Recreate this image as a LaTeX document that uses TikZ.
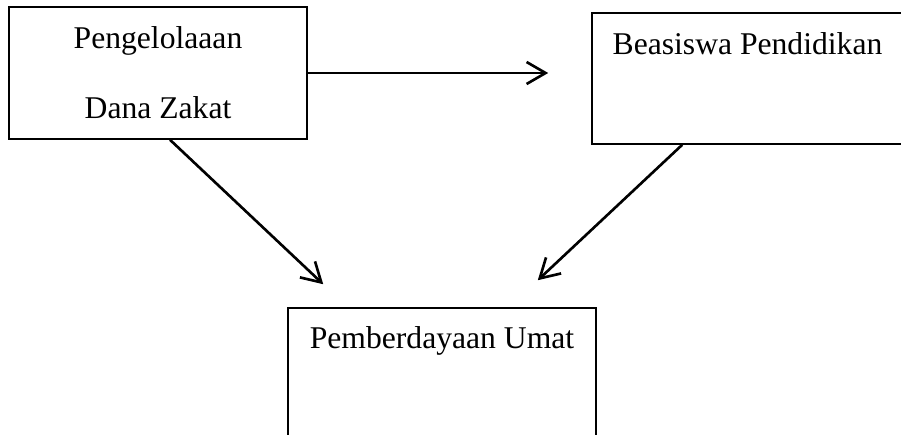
\documentclass[tikz,border=0pt]{standalone}
\usepackage{fontspec}
\setmainfont{Liberation Serif}
\usetikzlibrary{arrows.meta}
\usetikzlibrary{positioning}
\tikzset{kotak/.style = {draw, line width=0.9pt, inner sep=0pt,
                         font=\fontsize{18}{40}\selectfont, align=center},
         panah/.style = {line width=1.5pt,
                         -{Straight Barb[length=0.38cm, width=0.44cm, line width=1.5pt]}}}

\begin{document}
\begin{tikzpicture}
    \useasboundingbox (0, 0) rectangle (18.02, 8.68);

    \node [kotak, minimum width=5.96cm, minimum height=2.64cm] (pengelolaan) at (3.16, 7.22) {Pengelolaaan\\Dana Zakat};
    \node [kotak, minimum width=6.22cm, text height=0.82cm, text depth=1.8cm] (beasiswa) at (14.95, 7.11) {Beasiswa Pendidikan};
    \node [kotak, minimum width=6.16cm, text height=0.8cm, text depth=2.3cm] (pemberdayaan) at (8.84, 0.97) {Pemberdayaan Umat};

    \draw [panah] (pengelolaan.east) -- ([xshift=-0.86cm]pengelolaan.east -| beasiswa.west);
    \draw [panah] ([xshift=0.24cm]pengelolaan.south) -- ([xshift=0.72cm, yshift=0.46cm]pemberdayaan.north west);
    \draw [panah] ([xshift=1.82cm]beasiswa.south west) -- ([xshift=-1.18cm, yshift=0.54cm]pemberdayaan.north east);
\end{tikzpicture}
\end{document}
